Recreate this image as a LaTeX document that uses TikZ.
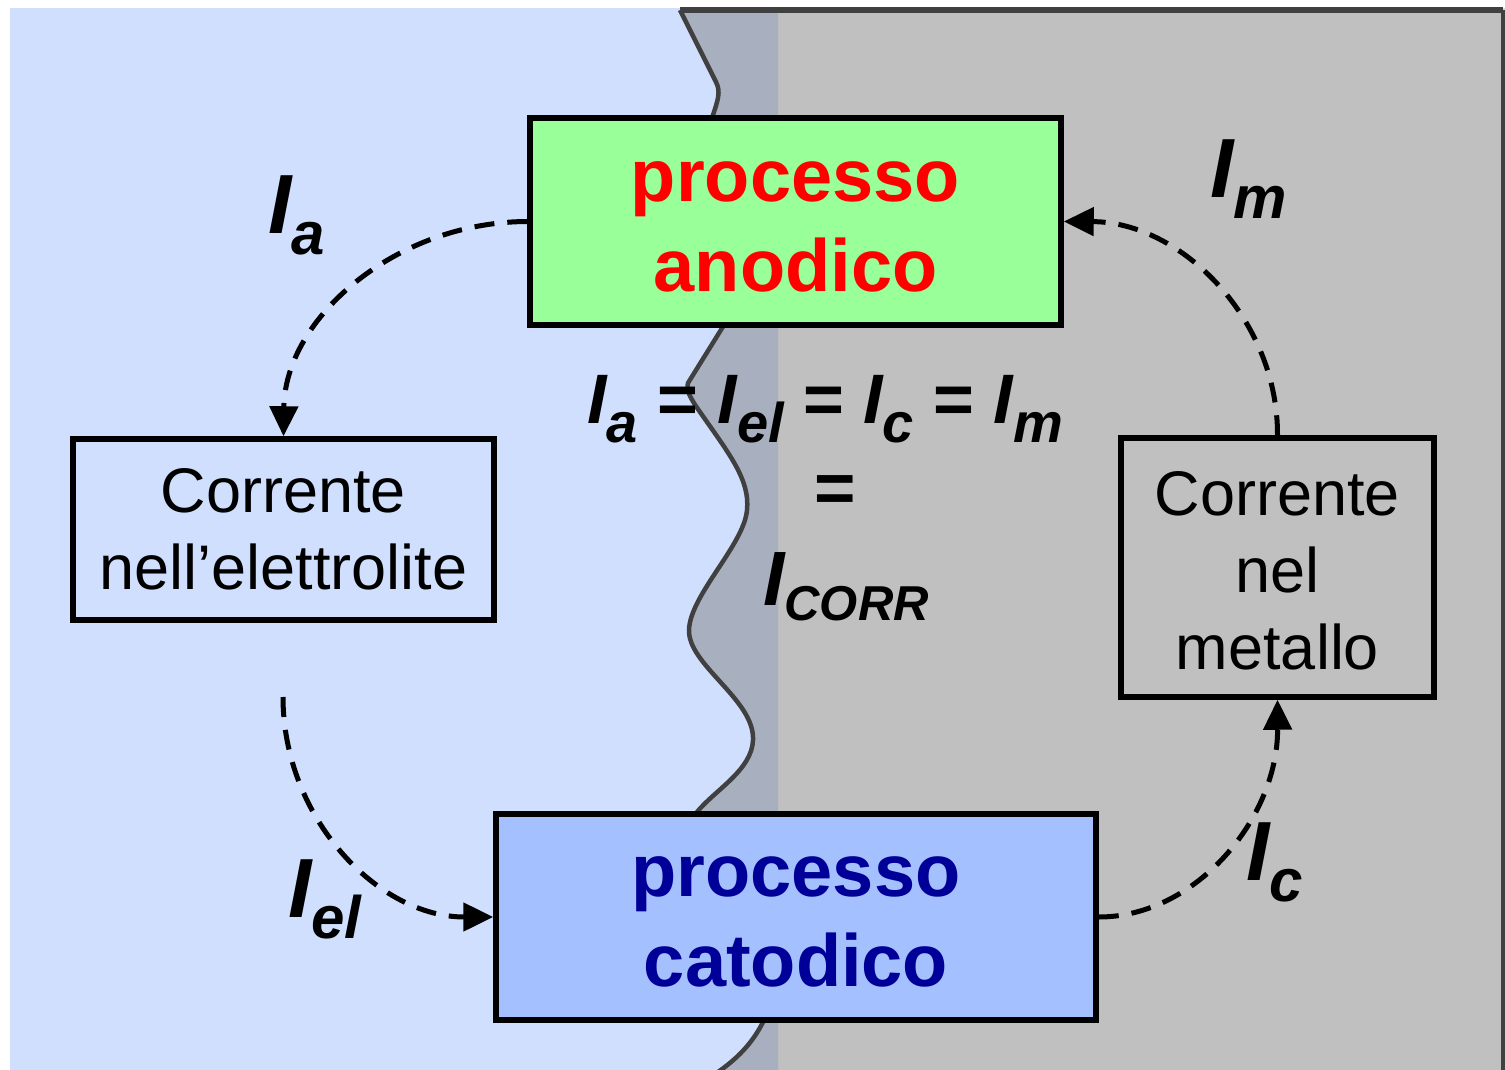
\documentclass[tikz,border=0pt]{standalone}
\usepackage{fontspec}
\setmainfont{Liberation Sans}
\usetikzlibrary{arrows.meta}
\definecolor{bgblue}{HTML}{D0DFFD}
\definecolor{bandgray}{HTML}{A8AFBF}
\definecolor{metalgray}{HTML}{C0C0C0}
\definecolor{edgegray}{HTML}{404040}
\definecolor{anodgreen}{HTML}{99FF99}
\definecolor{catblue}{HTML}{A4C0FF}
\definecolor{catext}{HTML}{000099}
\newcommand{\fs}[1]{\fontsize{#1}{#1}\selectfont}
\newcommand{\curI}[4]{{\fs{#1}\bfseries\itshape I}\raisebox{-#3pt}{\fs{#2}\bfseries\itshape #4}}
\def\wave{(680,10) -- (716,82) .. controls (721,92) and (718,100) .. (712,118) -- (724,325) -- (688,383) .. controls (686,390) and (690,398) .. (700,412) .. controls (730,455) and (750,480) .. (747,510) .. controls (744,545) and (690,595) .. (689,630) .. controls (688,665) and (755,700) .. (753,740) .. controls (752,770) and (715,790) .. (697,812) -- (764,1020) .. controls (752,1045) and (735,1060) .. (718,1072)}
\begin{document}
\begin{tikzpicture}[x=1pt,y=-1pt,
  procbox/.style={draw=black,line width=5.5pt,rectangle,inner sep=0pt,align=center},
  curbox/.style={draw=black,line width=5.5pt,rectangle,inner sep=0pt,align=center,font=\fontsize{63}{77}\selectfont},
  flow/.style={draw=black,line width=5pt,dash pattern=on 20pt off 13pt,-{Triangle[length=30pt,width=28pt]}},
  lbl/.style={inner sep=0pt,anchor=base west}]
\useasboundingbox (0,0) rectangle (1505,1070);
% background regions
\fill[bgblue] (10,8) rectangle (1505,1070);
\fill[metalgray] (778,10) rectangle (1503,1070);
\fill[bandgray] \wave -- (778,1072) -- (778,10) -- cycle;
\draw[edgegray,line width=4.5pt,line join=round] \wave;
\draw[edgegray,line width=6.5pt] (680,10) -- (1503,10);
\draw[edgegray,line width=3.5pt] (1503,10) -- (1503,1070);
% boxes
\node[procbox,fill=anodgreen,minimum width=531pt,minimum height=207pt,
  text=red,font=\fontsize{74}{90}\selectfont\bfseries] (anod) at (795.5,221.5) {\rule{0pt}{50pt}processo\\anodico};
\node[procbox,fill=catblue,minimum width=600pt,minimum height=206pt,
  text=catext,font=\fontsize{74}{90}\selectfont\bfseries] (cat) at (796,917) {\rule{0pt}{50pt}processo\\catodico};
\node[curbox,minimum width=421pt,minimum height=181pt] (elec) at (283.5,529.5) {Corrente\\nell’elettrolite};
\node[curbox,minimum width=313pt,minimum height=259pt,font=\fontsize{63}{77}\selectfont] (met) at (1277.5,567.5) {\rule{0pt}{50pt}Corrente\\nel\\metallo};
% connectors
\coordinate (e2) at (283,697);
\draw[flow] (anod.west) .. controls (396,222) and (285,318) .. (elec.north);
\draw[flow] (e2) .. controls (283,818) and (378,917) .. (cat.west);
\draw[flow] (cat.east) .. controls (1196,917) and (1278,818) .. (met.south);
\draw[flow] (met.north) .. controls (1278,319) and (1181,222) .. (anod.east);
% labels
\node[lbl] (la) at (268,233) {\curI{84}{60}{21}{a}};
\node[lbl] (lm) at (1210,197) {\curI{84}{60}{21}{m}};
\node[lbl] (lel) at (288,917) {\curI{84}{60}{21}{el}};
\node[lbl] (lc) at (1246,880) {\curI{84}{60}{21}{c}};
\node[lbl] (eq) at (587,423) {\curI{70}{56}{19}{a}\fs{70}\bfseries{} = \curI{70}{56}{19}{el} = \curI{70}{56}{19}{c} = \curI{70}{56}{19}{m}};
\node[inner sep=0pt,font=\fs{71}\bfseries] (eq2) at (835,494) {=};
\node[lbl] (corr) at (763,605) {\curI{77}{49}{15}{CORR}};
\end{tikzpicture}
\end{document}
